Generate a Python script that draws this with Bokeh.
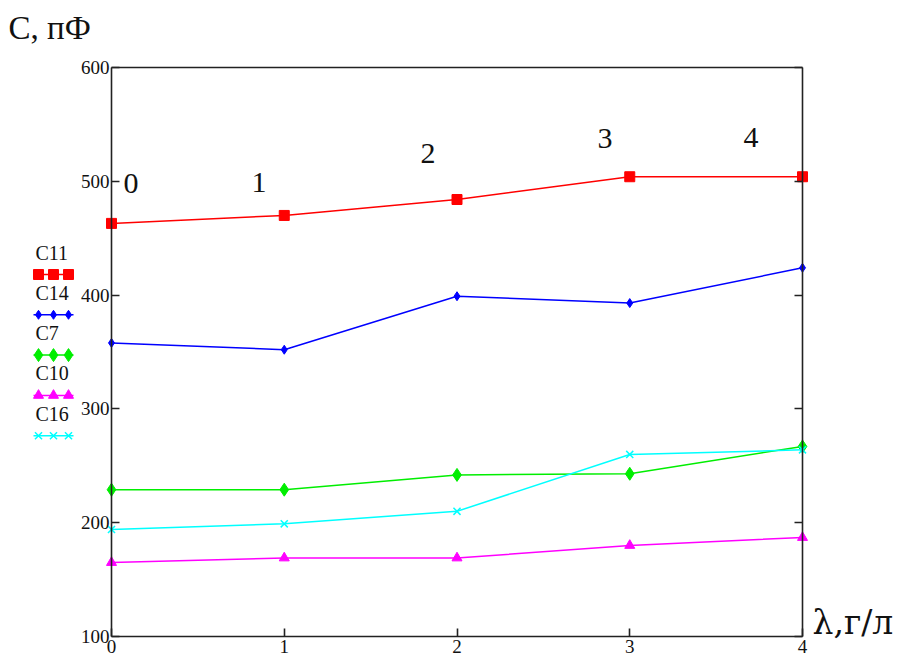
from bokeh.plotting import figure
from bokeh.models import Range1d, LinearAxis, FixedTicker, Label
from bokeh.embed import file_html
from bokeh.resources import INLINE

# ---- data ----
lam = [0, 1, 2, 3, 4]
C11 = [463, 470, 484, 504, 504]
C14 = [358, 352, 399, 393, 424]
C7 = [229, 229, 242, 243, 267]
C10 = [165, 169, 169, 180, 187]
C16 = [194, 199, 210, 260, 264]
series_names = ["C11", "C14", "C7", "C10", "C16"]
series_values = [C11, C14, C7, C10, C16]
x_ticks = [0, 1, 2, 3, 4]
y_ticks = [100, 200, 300, 400, 500, 600]
point_labels = ["0", "1", "2", "3", "4"]
y_title = "C, пФ"
x_title = "λ,г/л"

# ---- styles ----
colors = ["#FF0000", "#0000FF", "#00EE00", "#FF00FF", "#00FFFF"]
markers = ["square", "diamond", "diamond", "triangle", "x"]
msizes = [10, 9, 13, 10, 10]
SERIF = "Liberation Serif"
INK = "#111111"
AXC = "#222222"
TXT_SHIFT = 10   # baseline correction for the text annotations

# ---- layout (canvas pixels) ----
W, H = 910, 657
FL, FR, FT, FB = 111, 802, 67, 636          # data box on the canvas
X0, X1 = x_ticks[0], x_ticks[-1]
Y0, Y1 = y_ticks[0], y_ticks[-1]
sx = (FR - FL) / (X1 - X0)
sy = (FB - FT) / (Y1 - Y0)
x_range = Range1d(X0 - FL / sx, X1 + (W - FR) / sx)
y_range = Range1d(Y0 - (H - FB) / sy, Y1 + FT / sy)

p = figure(width=W, height=H, x_range=x_range, y_range=y_range,
           x_axis_location=None, y_axis_location=None,
           min_border=0, output_backend="svg", toolbar_location=None,
           background_fill_color="white", border_fill_color="white")
p.xgrid.grid_line_color = None
p.ygrid.grid_line_color = None
p.outline_line_color = None

# canvas-pixel ranges for decorations
p.extra_x_ranges = {"px": Range1d(0, W)}
p.extra_y_ranges = {"py": Range1d(H, 0)}


def style_axis(ax, size):
    ax.major_tick_in = 8
    ax.major_tick_out = 0
    ax.minor_tick_line_color = None
    ax.axis_line_color = AXC
    ax.axis_line_width = 1.6
    ax.major_tick_line_color = AXC
    ax.major_tick_line_width = 1.6
    ax.major_label_text_font = SERIF
    ax.major_label_text_color = INK
    ax.major_label_text_font_size = size
    ax.major_label_standoff = 3


left = LinearAxis(ticker=FixedTicker(ticks=y_ticks), fixed_location=X0, bounds=(Y0, Y1))
style_axis(left, "19px")
left.major_label_standoff = 2
p.add_layout(left, "left")

bottom = LinearAxis(ticker=FixedTicker(ticks=x_ticks), fixed_location=Y0, bounds=(X0, X1))
style_axis(bottom, "19px")
p.add_layout(bottom, "below")

right = LinearAxis(ticker=FixedTicker(ticks=y_ticks), fixed_location=X1, bounds=(Y0, Y1),
                   major_label_overrides={t: "" for t in y_ticks})
style_axis(right, "1px")
p.add_layout(right, "right")

top = LinearAxis(ticker=FixedTicker(ticks=[]), fixed_location=Y1, bounds=(X0, X1))
style_axis(top, "1px")
p.add_layout(top, "above")

# ---- series ----
for name, vals, c, m, s in zip(series_names, series_values, colors, markers, msizes):
    p.line(lam, vals, line_color=c, line_width=1.5)
    if m == "x":
        p.scatter(lam, vals, marker=m, size=s, line_color=c, line_width=1.5)
    else:
        p.scatter(lam, vals, marker=m, size=s, fill_color=c, line_color=c)

# ---- numbers above the curves ----
num_pos = [(123, 193), (251, 192), (420, 163), (597, 148), (743, 147)]
for t, (x, y) in zip(point_labels, num_pos):
    p.add_layout(Label(x=x, y=y - TXT_SHIFT, x_range_name="px", y_range_name="py", text=t,
                       text_font=SERIF, text_font_size="30px", text_color=INK,
                       text_align="left", text_baseline="alphabetic"))

# ---- axis titles ----
p.add_layout(Label(x=8, y=37 - TXT_SHIFT, x_range_name="px", y_range_name="py", text=y_title,
                   text_font=SERIF, text_font_size="33px", text_color=INK,
                   text_align="left", text_baseline="alphabetic"))
p.add_layout(Label(x=812, y=632 - TXT_SHIFT, x_range_name="px", y_range_name="py", text=x_title,
                   text_font="DejaVu Serif", text_font_size="33px", text_color=INK,
                   text_align="left", text_baseline="alphabetic"))

# ---- legend at left (label above a sample of three markers) ----
LEG_X0, LEG_X1 = 33, 73
LEG_Y0, LEG_DY = 274, 40.3
for i, (name, c, m, s) in enumerate(zip(series_names, colors, markers, msizes)):
    ys = LEG_Y0 + i * LEG_DY
    p.line([LEG_X0, LEG_X1], [ys, ys], x_range_name="px", y_range_name="py",
           line_color=c, line_width=1.5)
    mx = [LEG_X0 + 5, (LEG_X0 + LEG_X1) / 2, LEG_X1 - 5]
    if m == "x":
        p.scatter(mx, [ys] * 3, x_range_name="px", y_range_name="py", marker=m,
                  size=s, line_color=c, line_width=1.5)
    else:
        p.scatter(mx, [ys] * 3, x_range_name="px", y_range_name="py", marker=m,
                  size=s, fill_color=c, line_color=c)
    p.add_layout(Label(x=35, y=ys - 12 - TXT_SHIFT, x_range_name="px", y_range_name="py",
                       text=name, text_font=SERIF, text_font_size="20px", text_color=INK,
                       text_align="left", text_baseline="alphabetic"))

open("out.html", "w").write(file_html(p, INLINE))
